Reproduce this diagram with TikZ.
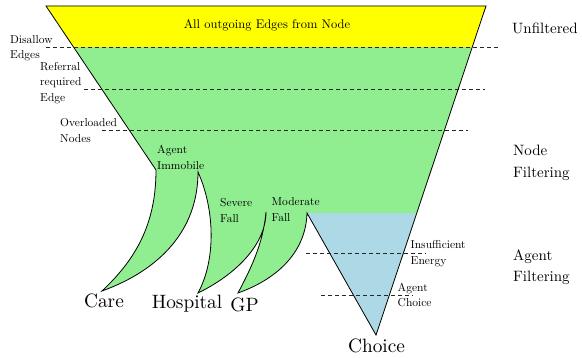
\documentclass[tikz,border=0pt]{standalone}
\usepackage{fontspec}
\setmainfont{lmroman10-regular.otf}
\usetikzlibrary{calc}
\definecolor{fyellow}{RGB}{255,255,0}
\definecolor{fgreen}{RGB}{144,238,144}
\definecolor{fblue}{RGB}{173,216,230}
\tikzset{
  outline/.style={draw=black,line width=0.8pt,line join=miter},
  cut/.style={draw=black!85,line width=0.8pt,dash pattern=on 4pt off 3pt},
  small/.style={font=\fontsize{11.5}{15.5}\selectfont,align=left,inner sep=0pt},
  side/.style={font=\fontsize{15}{21.5}\selectfont,align=left,inner sep=0pt,anchor=west},
  big/.style={font=\fontsize{19.3}{23}\selectfont,inner sep=0pt},
}
\begin{document}
\begin{tikzpicture}[x=1pt,y=-1pt]
\useasboundingbox (0,0) rectangle (582,358);
% key points
\coordinate (A) at (46,6);
\coordinate (B) at (486,6);
\coordinate (V) at (156,170);
\coordinate (Ct) at (102,291);
\coordinate (I) at (198,172);
\coordinate (Ht) at (198,293);
\coordinate (S) at (266,212);
\coordinate (Gt) at (238,293);
\coordinate (M) at (307,213);
\coordinate (Ch) at (376,335);
\coordinate (YL) at ($(A)!0.25!(V)$);
\coordinate (YR) at ($(B)!0.1246!(Ch)$);
\coordinate (BR) at ($(B)!0.6292!(Ch)$);
% green funnel
\fill[fgreen] (A) -- (V) .. controls (156,225) and (135,260) .. (Ct)
  .. controls (160,270) and (198,230) .. (I)
  .. controls (215,210) and (216,260) .. (Ht)
  .. controls (235,275) and (266,245) .. (S)
  .. controls (263,245) and (250,270) .. (Gt)
  .. controls (280,278) and (306,250) .. (M)
  -- (Ch) -- (B) -- cycle;
\fill[fyellow] (A) -- (B) -- (YR) -- (YL) -- cycle;
\fill[fblue] (M) -- (BR) -- (Ch) -- cycle;
\draw[outline] (A) -- (V) .. controls (156,225) and (135,260) .. (Ct)
  .. controls (160,270) and (198,230) .. (I)
  .. controls (215,210) and (216,260) .. (Ht)
  .. controls (235,275) and (266,245) .. (S)
  .. controls (263,245) and (250,270) .. (Gt)
  .. controls (280,278) and (306,250) .. (M)
  -- (Ch) -- (B) -- cycle;
% dashed cut lines
\coordinate (d1a) at (46,47.5);  \coordinate (d1b) at (500,47.5);
\coordinate (d2a) at (84,89);    \coordinate (d2b) at (485,89);
\coordinate (d3a) at (102,130);  \coordinate (d3b) at (468,130);
\coordinate (d4a) at (306,253.3);\coordinate (d4b) at (426,253.3);
\coordinate (d5a) at (321,295);  \coordinate (d5b) at (413,295);
\draw[cut] (d1a) -- (d1b);
\draw[cut] (d2a) -- (d2b);
\draw[cut] (d3a) -- (d3b);
\draw[cut] (d4a) -- (d4b);
\draw[cut] (d5a) -- (d5b);
% labels
\node[font=\fontsize{12.5}{15}\selectfont,inner sep=0pt] (all) at (267,25) {All outgoing Edges from Node};
\node[side] (unf) at (512,28) {Unfiltered};
\node[side] (nf) at (513,163) {Node\\Filtering};
\node[side] (af) at (513,267) {Agent\\Filtering};
\node[small,anchor=west] (dis) at (10,48) {Disallow\\Edges};
\node[small,anchor=west] (ref) at (40,83) {Referral\\required\\Edge};
\node[small,anchor=west] (ovl) at (60,130.5) {Overloaded\\Nodes};
\node[small,anchor=west] (imm) at (157,157.5) {Agent\\Immobile};
\node[small,anchor=west] (sev) at (220,210.5) {Severe\\Fall};
\node[small,anchor=west] (mod) at (271.5,209.5) {Moderate\\Fall};
\node[small,anchor=west] (ins) at (410.5,253.5) {Insufficient\\Energy};
\node[small,anchor=west] (ach) at (397.5,295) {Agent\\Choice};
\node[big] (care) at (104,301) {Care};
\node[big] (hosp) at (187,304) {Hospital};
\node[big] (gp) at (244.5,305) {GP};
\node[big] (choice) at (376.5,346) {Choice};
\end{tikzpicture}
\end{document}
